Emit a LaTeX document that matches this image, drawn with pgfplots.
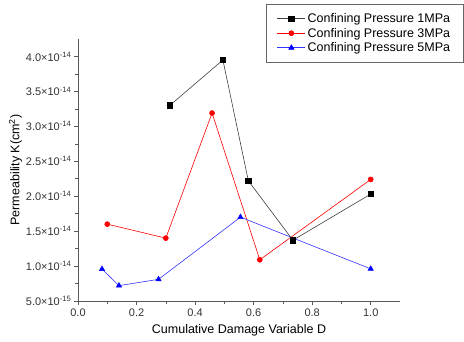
\documentclass[border=0pt]{standalone}
\usepackage{fontspec}
\setmainfont{Liberation Sans}
\usepackage{pgfplots}
\pgfplotsset{compat=1.18}
\begin{document}
\begin{tikzpicture}
\begin{axis}[
  name=ax,
  scale only axis,
  width=322pt, height=262pt,
  xmin=0, xmax=1.1,
  ymin=0.5, ymax=4.25,
  axis lines*=left,
  axis line style={black!65, line width=0.8pt},
  tick style={black!65, line width=0.6pt},
  tick align=outside,
  major tick length=4pt, minor tick length=2.5pt,
  minor tick num=1,
  xtick={0,0.2,0.4,0.6,0.8,1.0},
  xticklabels={0.0,0.2,0.4,0.6,0.8,1.0},
  ytick={0.5,1,1.5,2,2.5,3,3.5,4},
  yticklabels={5.0×10\textsuperscript{-15},1.0×10\textsuperscript{-14},1.5×10\textsuperscript{-14},2.0×10\textsuperscript{-14},2.5×10\textsuperscript{-14},3.0×10\textsuperscript{-14},3.5×10\textsuperscript{-14},4.0×10\textsuperscript{-14}},
  ticklabel style={font=\fontsize{11}{12}\selectfont, text=black!80},
  yticklabel style={xshift=1pt},
  xlabel={Cumulative Damage Variable D},
  ylabel={Permeability K(cm\textsuperscript{2})},
  label style={font=\fontsize{12.5}{14}\selectfont},
  xlabel style={yshift=-1pt},
  ylabel style={yshift=-3pt},
  legend style={at={(1.196,1.134)}, anchor=north east, outer sep=0pt, draw=black!60, font=\fontsize{12.5}{14}\selectfont, inner xsep=11pt, inner ysep=7.5pt, row sep=0pt, legend cell align=left},
  legend image code/.code={\draw[#1] (0pt,0pt) -- (28pt,0pt); \draw[#1, only marks] plot coordinates {(14pt,0pt)};},
]
\addplot[black!75, line width=0.6pt, mark=square*, mark size=2.6pt, mark options={fill=black, draw=black}] coordinates {
(0.314,3.30) (0.495,3.95) (0.582,2.22) (0.734,1.37) (1.0,2.03)};
\addlegendentry{Confining Pressure 1MPa}
\addplot[red, line width=0.6pt, mark=*, mark size=2.5pt, mark options={fill=red, draw=red}] coordinates {
(0.100,1.60) (0.300,1.40) (0.458,3.19) (0.621,1.09) (1.0,2.24)};
\addlegendentry{Confining Pressure 3MPa}
\addplot[blue!80, line width=0.6pt, mark=triangle*, mark size=3pt, mark options={fill=blue, draw=blue}] coordinates {
(0.082,0.957) (0.140,0.72) (0.275,0.81) (0.555,1.70) (1.0,0.96)};
\addlegendentry{Confining Pressure 5MPa}
\end{axis}
\pgfresetboundingbox
\useasboundingbox ([shift={(-78pt,-40pt)}]ax.south west) rectangle ([shift={(64pt,39pt)}]ax.north east);
\end{tikzpicture}
\end{document}
